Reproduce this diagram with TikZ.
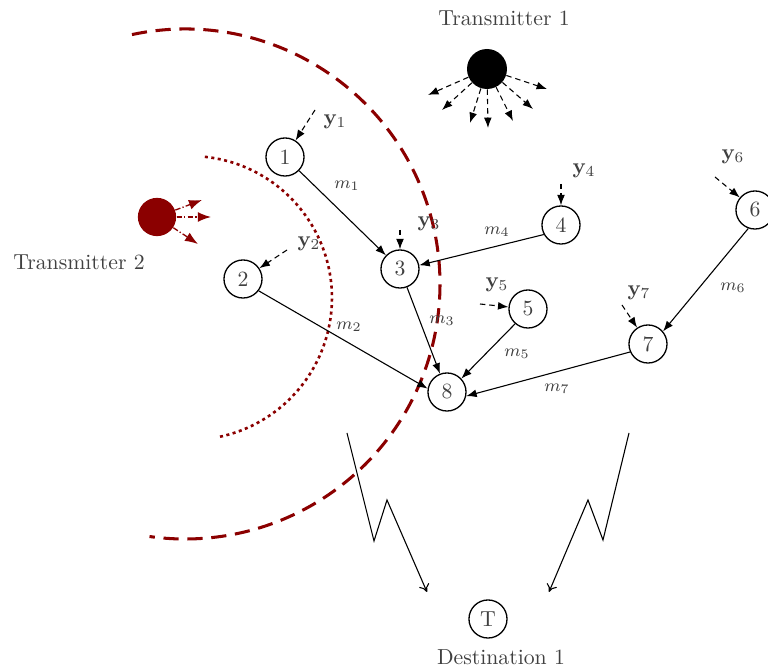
\documentclass[tikz,border=0pt]{standalone}
\usetikzlibrary{arrows.meta}
\definecolor{darkred}{RGB}{139,0,0}
\tikzset{
  relay/.style={circle,draw=black,line width=0.6pt,minimum size=17.5pt,inner sep=0pt,text=black!75},
  source/.style={circle,minimum size=18.4pt,inner sep=0pt},
  lbl/.style={text=black!75,inner sep=1pt},
  mlbl/.style={text=black!75,font=\footnotesize,inner sep=1pt},
  link/.style={line width=0.5pt,-{Latex[length=4.8pt,width=3.6pt]}},
  obs/.style={line width=0.5pt,dash pattern=on 2.5pt off 1.8pt,-{Latex[length=4.8pt,width=3.6pt]}},
  ray/.style={line width=0.5pt,dash pattern=on 2.5pt off 1.8pt,-{Latex[length=4.8pt,width=3.6pt]}},
  redray/.style={darkred,line width=0.6pt,dash pattern=on 2.5pt off 1pt on 0.6pt off 1pt,-{Latex[length=6pt,width=4.5pt]}},
  zig/.style={line width=0.5pt,-{To[length=3.5pt,width=5pt]}},
  rangeA/.style={darkred,line width=1.4pt,dash pattern=on 7pt off 4pt},
  rangeB/.style={darkred,line width=1.2pt,dash pattern=on 1.4pt off 1.6pt},
}
\begin{document}
\begin{tikzpicture}[x=0.46pt,y=-0.46pt]
\useasboundingbox (0,0) rectangle (768,671);

% coverage ranges of the two transmitters
\coordinate (rcA) at (185,284);
\coordinate (rcB) at (190,298);
\draw[rangeA] ([shift={(102:117.3pt)}]rcA) arc[start angle=102,end angle=-98,radius=117.3pt];
\draw[rangeB] ([shift={(84:65.3pt)}]rcB) arc[start angle=84,end angle=-78,radius=65.3pt];

% transmitters
\node[source,fill=black] (tx1) at (487,69) {};
\node[lbl] (tx1l) at (504,18) {Transmitter 1};
\node[source,fill=darkred,minimum size=17.6pt] (tx2) at (157,217) {};
\node[lbl] (tx2l) at (79,262) {Transmitter 2};

% broadcast rays of transmitter 1
\coordinate (r1) at (428,95);
\coordinate (r2) at (442,110);
\coordinate (r3) at (470,123);
\coordinate (r4) at (488,128);
\coordinate (r5) at (513,121);
\coordinate (r6) at (533,109);
\coordinate (r7) at (547,89);
\foreach \r in {r1,r2,r3,r4,r5,r6,r7} \draw[ray] (tx1) -- (\r);

% rays of transmitter 2
\coordinate (q1) at (202,200);
\coordinate (q2) at (211,217);
\coordinate (q3) at (198,244);
\foreach \q in {q1,q2,q3} \draw[redray] (tx2) -- (\q);

% relay nodes
\node[relay] (n1) at (285,157) {1};
\node[relay] (n2) at (243,279) {2};
\node[relay] (n3) at (400,269) {3};
\node[relay] (n4) at (561,225) {4};
\node[relay] (n5) at (528,309) {5};
\node[relay] (n6) at (755,210) {6};
\node[relay] (n7) at (648,344) {7};
\node[relay] (n8) at (447,392) {8};
\node[relay] (nT) at (488,619) {T};
\node[lbl] (destl) at (501,657) {Destination 1};

% observations
\node[lbl] (y1) at (335,122) {$\mathbf{y}_1$};
\node[lbl] (y2) at (309,244) {$\mathbf{y}_2$};
\node[lbl] (y3) at (429,224) {$\mathbf{y}_3$};
\node[lbl] (y4) at (584,171) {$\mathbf{y}_4$};
\node[lbl] (y5) at (497,285) {$\mathbf{y}_5$};
\node[lbl] (y6) at (733,157) {$\mathbf{y}_6$};
\node[lbl] (y7) at (639,293) {$\mathbf{y}_7$};
\coordinate (o1) at (315,110);
\coordinate (o2) at (287,250);
\coordinate (o3) at (400,230);
\coordinate (o4) at (561,184);
\coordinate (o5) at (480,304);
\coordinate (o6) at (715,177);
\coordinate (o7) at (622,305);
\draw[obs] (o1) -- (n1);
\draw[obs] (o2) -- (n2);
\draw[obs] (o3) -- (n3);
\draw[obs] (o4) -- (n4);
\draw[obs] (o5) -- (n5);
\draw[obs] (o6) -- (n6);
\draw[obs] (o7) -- (n7);

% messages between relays
\draw[link] (n1) -- (n3);
\draw[link] (n2.-37) -- (n8.170);
\draw[link] (n3) -- (n8);
\draw[link] (n4.209) -- (n3.11);
\draw[link] (n5.229) -- (n8.43);
\draw[link] (n6.250) -- (n7.40);
\draw[link] (n7.204) -- (n8.-12);
\node[mlbl] (m1) at (347,186) {$m_1$};
\node[mlbl] (m2) at (349,327) {$m_2$};
\node[mlbl] (m3) at (442,321) {$m_3$};
\node[mlbl] (m4) at (497,232) {$m_4$};
\node[mlbl] (m5) at (517,354) {$m_5$};
\node[mlbl] (m6) at (733,288) {$m_6$};
\node[mlbl] (m7) at (557,389) {$m_7$};

% links to the destination
\coordinate (zl0) at (347,433);
\coordinate (zl1) at (374,541);
\coordinate (zl2) at (387,500);
\coordinate (zl3) at (427,592);
\coordinate (zr0) at (629,433);
\coordinate (zr1) at (603,540);
\coordinate (zr2) at (588,500);
\coordinate (zr3) at (549,592);
\draw[zig] (zl0) -- (zl1) -- (zl2) -- (zl3);
\draw[zig] (zr0) -- (zr1) -- (zr2) -- (zr3);
\end{tikzpicture}
\end{document}
